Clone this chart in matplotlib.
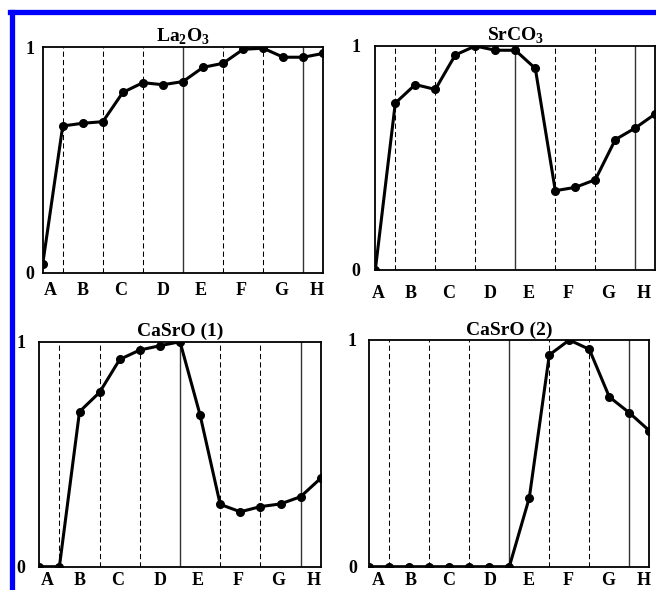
import numpy as np
import matplotlib.pyplot as plt
from matplotlib.lines import Line2D

# Dữ liệu đọc từ ảnh mẫu (15 điểm trên mỗi đồ thị)
x = np.arange(15)
la2o3 = [0.038, 0.651, 0.663, 0.670, 0.800, 0.843, 0.834, 0.848,
         0.911, 0.929, 0.991, 0.996, 0.956, 0.956, 0.973]
srco3 = [0.0, 0.745, 0.828, 0.806, 0.960, 1.0, 0.981, 0.981,
         0.900, 0.354, 0.369, 0.403, 0.582, 0.634, 0.697]
casro1 = [0.0, 0.0, 0.689, 0.775, 0.921, 0.963, 0.982, 1.0,
          0.674, 0.277, 0.244, 0.267, 0.279, 0.311, 0.393]
casro2 = [0.0, 0.0, 0.0, 0.0, 0.0, 0.0, 0.0, 0.0,
          0.304, 0.934, 1.0, 0.959, 0.749, 0.679, 0.600]

titles = ['La$_\\mathrm{2}$O$_\\mathrm{3}$', 'SrCO$_\\mathrm{3}$', 'CaSrO (1)', 'CaSrO (2)']
letters = ['A', 'B', 'C', 'D', 'E', 'F', 'G', 'H']
letter_pos = [0.4, 2.0, 3.9, 6.0, 7.9, 9.9, 11.9, 13.65]
dashed_at = [1, 3, 5, 9, 11]
solid_at = [7, 13]

plt.rcParams['font.family'] = ['Liberation Serif', 'DejaVu Serif']
plt.rcParams['font.weight'] = 'bold'
plt.rcParams['mathtext.fontset'] = 'custom'
plt.rcParams['mathtext.rm'] = 'Liberation Serif:bold'
plt.rcParams['mathtext.bf'] = 'Liberation Serif:bold'

fig = plt.figure(figsize=(6.56, 5.9), dpi=100)

# vị trí các ô (theo pixel đo trên ảnh mẫu)
W, H = 656, 590
boxes = [(42.7, 47.3, 323.3, 272.7),
         (375.3, 46.0, 655.3, 270.0),
         (39.3, 341.7, 320.7, 566.7),
         (369.3, 340.0, 649.3, 566.7)]
ypads = [6, 11, 10, 9]
xshift = [0.0, -0.25, 0.0, 0.05]
xpads = [7, 11, 4, 4]

series = [la2o3, srco3, casro1, casro2]
for i in range(4):
    l, t, r, b = boxes[i]
    ax = fig.add_axes([l / W, 1 - b / H, (r - l) / W, (b - t) / H])
    for xv in dashed_at:
        ax.axvline(xv, color='black', lw=0.75, ls=(0, (5, 3)), zorder=1)
    for xv in solid_at:
        ax.axvline(xv, color='#333333', lw=1.0, zorder=1)
    ax.plot(x, series[i], color='black', lw=2.2, marker='o', ms=5.5, zorder=3)
    ax.set_xlim(0, 14)
    ax.set_ylim(0, 1)
    ax.set_yticks([0, 1])
    ax.set_yticklabels(['0', '1'], fontsize=13, fontweight='bold')
    ax.set_xticks(np.array(letter_pos) + xshift[i])
    ax.set_xticklabels(letters, fontsize=13, fontweight='bold')
    ax.tick_params(axis='y', length=0, pad=ypads[i])
    ax.tick_params(axis='x', length=0, pad=xpads[i])
    for s in ax.spines.values():
        s.set_linewidth(1.3)
    ax.set_title(titles[i], fontsize=14, fontweight='bold', pad=4)

# khung màu xanh
fig.add_artist(Line2D([11.5 / W, 11.5 / W], [0, 1 - 12 / H], color='#0000ff', lw=3.8))
fig.add_artist(Line2D([9.6 / W, 1], [1 - 12 / H, 1 - 12 / H], color='#0000ff', lw=3.8))

plt.savefig('out.png', dpi=100)
